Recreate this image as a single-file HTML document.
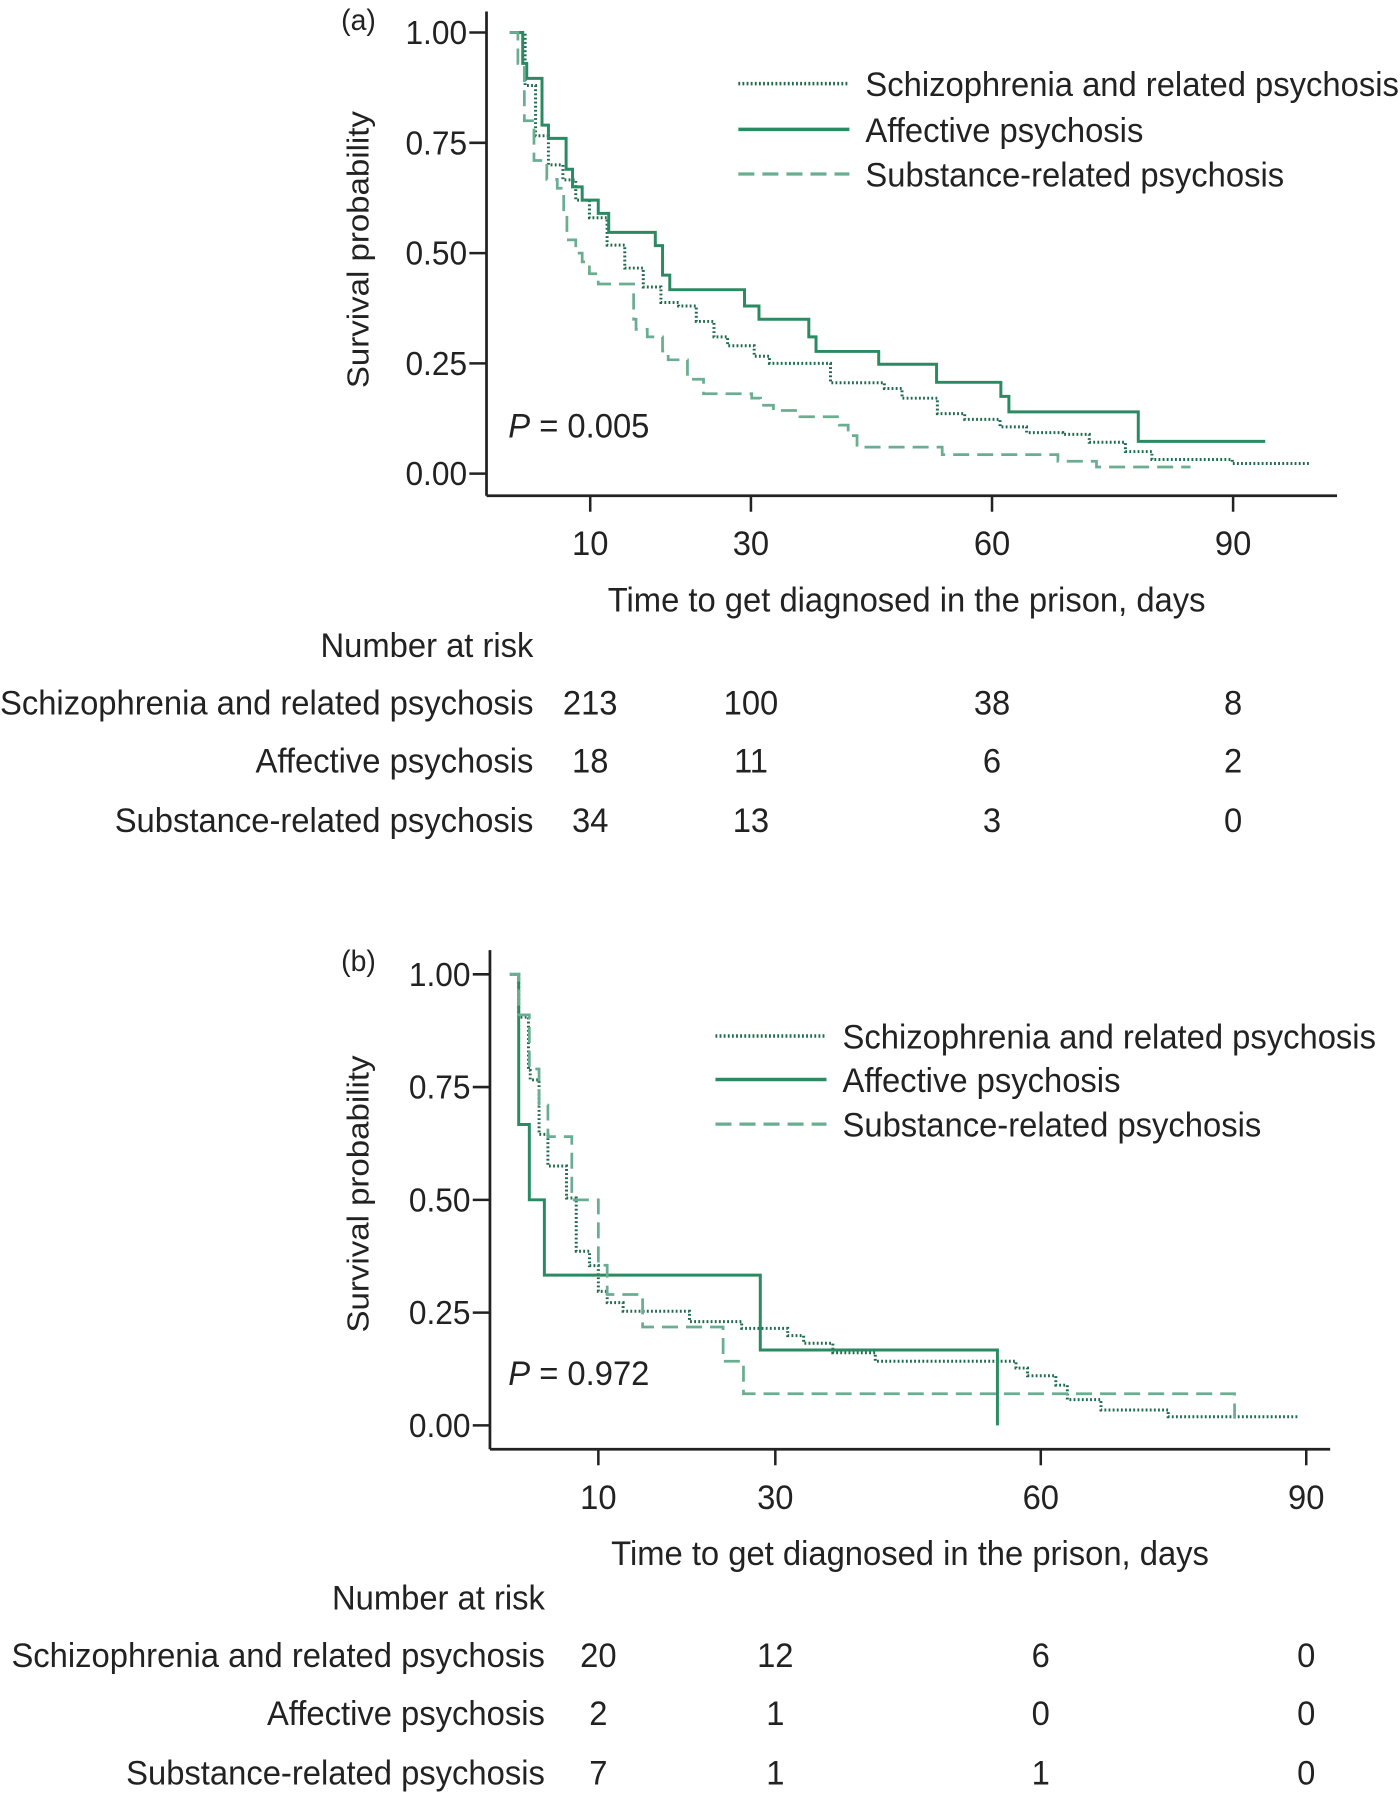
<!DOCTYPE html>
<html><head><meta charset="utf-8"><style>
html,body{margin:0;padding:0;background:#fff}
svg{display:block}
text{font-family:"Liberation Sans",sans-serif;fill:#222}
</style></head><body>
<svg id="fig" width="1400" height="1795" viewBox="0 0 1223 1568" xmlns="http://www.w3.org/2000/svg">
<g id="pa"></g>
<g id="pb"></g>
</svg>
<script>
// ---- Panel (a) data ----
const aSchT=[0,1.9,3.2,4.8,6.6,8.2,9.9,12.1,14.3,16.6,18.8,21,23.2,25.4,27.1,30.4,32.3,39.9,46.6,48.8,53.2,56.6,61,64.3,68.8,72.1,76.6,79.9,89.9];
const aSchS=[1,0.88,0.766,0.70,0.666,0.62,0.58,0.518,0.466,0.423,0.388,0.38,0.345,0.31,0.29,0.266,0.25,0.206,0.193,0.171,0.136,0.123,0.106,0.093,0.089,0.071,0.05,0.032,0.023];
const aSchEnd=99.7;
const aAffT=[0,1.6,2.1,4,4.8,7,7.8,9,11,12.3,18.1,19,19.9,29.2,31,37.2,38.1,45.9,53.1,61.1,62.1,78.2];
const aAffS=[1,0.93,0.896,0.79,0.76,0.69,0.65,0.62,0.59,0.547,0.517,0.45,0.417,0.38,0.35,0.31,0.277,0.248,0.207,0.175,0.14,0.073];
const aAffEnd=94;
const aSubT=[0,1,1.8,3,4.6,5.9,6.7,7.1,8.2,9,9.9,11,15.4,15.7,17.1,19,19.7,22.1,24.1,30.1,31.2,32.8,36.1,41,42.1,43.2,53.8,68.2,73];
const aSubS=[1,0.93,0.80,0.71,0.667,0.647,0.588,0.53,0.50,0.48,0.453,0.43,0.35,0.327,0.31,0.278,0.258,0.214,0.181,0.171,0.155,0.143,0.129,0.11,0.086,0.06,0.043,0.028,0.015];
const aSubEnd=84.7;
const aRisk=[[213,100,38,8],[18,11,6,2],[34,13,3,0]];
// ---- Panel (b) data ----
const bSchT=[0,1,2.1,2.3,3.3,4.3,6.4,7.5,9,10,11,12.8,20.3,26.2,31.4,33.2,36.5,41.3,57.2,58.5,61.7,63,66.8,74.4];
const bSchS=[1,0.905,0.787,0.766,0.645,0.575,0.504,0.386,0.354,0.297,0.272,0.253,0.23,0.215,0.199,0.182,0.161,0.142,0.127,0.11,0.089,0.057,0.034,0.019];
const bSchEnd=89;
const bAffT=[0,1,2.2,3.9,28.3,55.1];
const bAffS=[1,0.667,0.5,0.333,0.167,0.0];
const bAffEnd=55.1;
const bSubT=[0,1,2.2,3.3,4.3,7,10,11,15,24.1,26.4,81.9];
const bSubS=[1,0.91,0.79,0.71,0.64,0.5,0.355,0.29,0.218,0.142,0.07,0.015];
const bSubEnd=81.9;
const bRisk=[[20,12,6,0],[2,1,0,0],[7,1,1,0]];
// shared
const xTicks=[10,30,60,90];
const yTicks=[0,0.25,0.5,0.75,1];
const yTickLabels=["0.00","0.25","0.50","0.75","1.00"];
const groups=["Schizophrenia and related psychosis","Affective psychosis","Substance-related psychosis"];

const NS="http://www.w3.org/2000/svg";
const squeezed=[];
function mk(tag,attrs,parent){const e=document.createElementNS(NS,tag);for(const k in attrs)e.setAttribute(k,attrs[k]);parent.appendChild(e);return e;}
function txt(parent,x,y,s,size,anchor,nosq){const t=mk('text',{x:x,y:y,'font-size':size,'text-anchor':anchor||'start'},parent);t.textContent=s;if(!nosq)squeezed.push(t);return t;}
function stepPath(T,S,end,X,Y){let d='M'+X(T[0])+','+Y(S[0]);for(let i=1;i<T.length;i++){d+=' H'+X(T[i])+' V'+Y(S[i]);}d+=' H'+X(end);return d;}

const styles=[
 {stroke:'#1d6b4c',w:2.6,dash:'1.6 2'},
 {stroke:'#2a8a62',w:2.6,dash:''},
 {stroke:'#6aae91',w:2.4,dash:'14 7'}
];

function panel(g,cfg){
 const X=cfg.X,Y=cfg.Y;
 let e=mk('line',{x1:cfg.ax,y1:cfg.yTop,x2:cfg.ax,y2:cfg.yAx,stroke:'#222','stroke-width':2.4},g);
 
 
 e=mk('line',{x1:cfg.ax,y1:cfg.yAx,x2:cfg.xEnd,y2:cfg.yAx,stroke:'#222','stroke-width':2.4},g);
 
 
 yTicks.forEach((v,i)=>{
  const t=mk('line',{x1:cfg.ax-15,y1:Y(v),x2:cfg.ax,y2:Y(v),stroke:'#222','stroke-width':2.2},g);
  
  
  const l=txt(g,cfg.ax-17,Y(v)+10,yTickLabels[i],29,'end');
  
  
 });
 xTicks.forEach(v=>{
  const t=mk('line',{x1:X(v),y1:cfg.yAx,x2:X(v),y2:cfg.yAx+14,stroke:'#222','stroke-width':2.2},g);
  
  
  const l=txt(g,X(v),cfg.yAx+52,String(v),30,'middle');
  
  
 });
 let t=txt(g,cfg.titleX,cfg.yAx+101,'Time to get diagnosed in the prison, days',30,'middle');
 
 
 t=txt(g,0,0,'Survival probability',27,'middle',true);
 t.setAttribute('transform','translate('+cfg.ylabX+','+cfg.ylabY+') rotate(-90)');
 t.setAttribute('textLength','242');
 t.setAttribute('lengthAdjust','spacingAndGlyphs');
 
 
 t=txt(g,cfg.tagX,cfg.tagY,cfg.tag,26,'start');
 
 
 cfg.series.forEach((s,i)=>{
  const p=mk('path',{d:stepPath(s[0],s[1],s[2],X,Y),fill:'none',stroke:styles[i].stroke,'stroke-width':styles[i].w,'stroke-dasharray':styles[i].dash},g);
  
  
 });
 groups.forEach((n,i)=>{
  const ly=cfg.legY[i];
  const ln=mk('line',{x1:cfg.legX,y1:ly,x2:cfg.legX+97,y2:ly,stroke:styles[i].stroke,'stroke-width':styles[i].w+0.4,'stroke-dasharray':styles[i].dash},g);
  
  
  const lt=txt(g,cfg.legX+111,ly+11,n,30,'start');
  
  
 });
 const pv=mk('text',{x:444,y:cfg.pY,'font-size':30},g);
 
 
 pv.innerHTML='<tspan font-style="italic">P</tspan> = '+cfg.p;
 squeezed.push(pv);
 t=txt(g,cfg.riskR,cfg.riskY[0],'Number at risk',30,'end');
 
 
 groups.forEach((n,i)=>{
  const rl=txt(g,cfg.riskR,cfg.riskY[i+1],n,30,'end');
  
  
  cfg.risk[i].forEach((v,j)=>{
   const c=txt(g,X(xTicks[j]),cfg.riskY[i+1],String(v),30,'middle');
   
   
  });
 });
}

panel(document.getElementById('pa'),{
 X:t=>445.4+7.02*t, Y:s=>413.7-385.3*s,
 ax:425,yTop:10,yAx:433,xEnd:1168,titleX:792,ylabX:322,ylabY:218,tag:'(a)',tagX:298,tagY:26,
 series:[[aSchT,aSchS,aSchEnd],[aAffT,aAffS,aAffEnd],[aSubT,aSubS,aSubEnd]],
 legX:645,legY:[73,113,152],pY:382,p:'0.005',risk:aRisk,riskR:466,riskY:[574,624,675,727]
});
panel(document.getElementById('pb'),{
 X:t=>445.4+7.73*t, Y:s=>1245.1-394*s,
 ax:428,yTop:830,yAx:1266,xEnd:1162,titleX:795,ylabX:322,ylabY:1043,tag:'(b)',tagX:298,tagY:848,
 series:[[bSchT,bSchS,bSchEnd],[bAffT,bAffS,bAffEnd],[bSubT,bSubS,bSubEnd]],
 legX:625,legY:[905,943,982],pY:1210,p:'0.972',risk:bRisk,riskR:476,riskY:[1406,1456,1507,1559]
});
// condense text to match the narrow typeface of the reference
(function(){
 const probe=squeezed.find(t=>t.textContent===groups[0]);
 const f=probe?Math.min(1,466/probe.getComputedTextLength()):0.88;
 squeezed.forEach(t=>{
  const L=t.getComputedTextLength();
  if(L>0){t.setAttribute('textLength',(L*f).toFixed(1));t.setAttribute('lengthAdjust','spacingAndGlyphs');}
 });
})();
</script>
</body></html>
